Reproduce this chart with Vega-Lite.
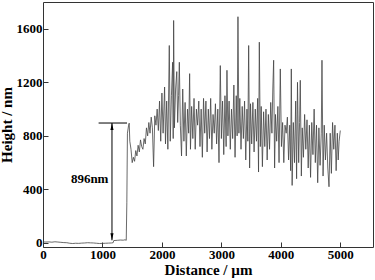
{
  "$schema": "https://vega.github.io/schema/vega-lite/v6.json",
  "width": 330,
  "height": 245,
  "autosize": {"type": "none"},
  "padding": {"left": 43, "top": 2, "right": 2, "bottom": 33},
  "background": "white",
  "config": {
    "view": {"stroke": "#333", "strokeWidth": 1},
    "axis": {
      "grid": false,
      "domain": false,
      "labelFont": "Liberation Serif",
      "labelFontWeight": "bold",
      "labelFontSize": 13,
      "labelColor": "#000",
      "titleFont": "Liberation Serif",
      "titleFontWeight": "bold",
      "titleFontSize": 15,
      "titleColor": "#000",
      "tickColor": "#333",
      "tickWidth": 1
    }
  },
  "datasets": {
    "profile": [
      {"d": 0, "h": 8}, {"d": 50, "h": 7}, {"d": 100, "h": 8}, {"d": 150, "h": 6}, {"d": 200, "h": 9},
      {"d": 250, "h": 7}, {"d": 300, "h": 5}, {"d": 350, "h": 3}, {"d": 400, "h": 2}, {"d": 450, "h": -2},
      {"d": 500, "h": -4}, {"d": 550, "h": -2}, {"d": 600, "h": -3}, {"d": 650, "h": -1}, {"d": 700, "h": 0},
      {"d": 750, "h": 2}, {"d": 800, "h": 1}, {"d": 850, "h": 0}, {"d": 900, "h": -2}, {"d": 950, "h": -4},
      {"d": 1000, "h": -3}, {"d": 1050, "h": -2}, {"d": 1100, "h": -1}, {"d": 1150, "h": 0}, {"d": 1180, "h": 2},
      {"d": 1190, "h": 18}, {"d": 1250, "h": 20}, {"d": 1300, "h": 22}, {"d": 1350, "h": 21}, {"d": 1380, "h": 24},
      {"d": 1400, "h": 20}, {"d": 1410, "h": 300}, {"d": 1420, "h": 820}, {"d": 1440, "h": 880}, {"d": 1450, "h": 895},
      {"d": 1460, "h": 760}, {"d": 1480, "h": 700}, {"d": 1500, "h": 600}, {"d": 1520, "h": 640}, {"d": 1540, "h": 610},
      {"d": 1560, "h": 690}, {"d": 1580, "h": 650}, {"d": 1600, "h": 730}, {"d": 1620, "h": 680}, {"d": 1640, "h": 770},
      {"d": 1660, "h": 720}, {"d": 1680, "h": 700}, {"d": 1700, "h": 780}, {"d": 1720, "h": 740}, {"d": 1740, "h": 860},
      {"d": 1760, "h": 800}, {"d": 1780, "h": 900}, {"d": 1800, "h": 820}, {"d": 1820, "h": 940}, {"d": 1840, "h": 860},
      {"d": 1860, "h": 570}, {"d": 1880, "h": 950}, {"d": 1900, "h": 880}, {"d": 1920, "h": 1000}, {"d": 1940, "h": 840},
      {"d": 1960, "h": 1060}, {"d": 1980, "h": 760}, {"d": 2000, "h": 1120}, {"d": 2020, "h": 820}, {"d": 2045, "h": 1165},
      {"d": 2060, "h": 740}, {"d": 2080, "h": 1060}, {"d": 2100, "h": 700}, {"d": 2124, "h": 1475}, {"d": 2140, "h": 760},
      {"d": 2160, "h": 1100}, {"d": 2180, "h": 1350}, {"d": 2190, "h": 780}, {"d": 2197, "h": 1662}, {"d": 2210, "h": 860},
      {"d": 2230, "h": 1150}, {"d": 2250, "h": 1280}, {"d": 2265, "h": 900}, {"d": 2280, "h": 1100}, {"d": 2293, "h": 1350},
      {"d": 2310, "h": 880}, {"d": 2330, "h": 650}, {"d": 2350, "h": 1150}, {"d": 2370, "h": 760}, {"d": 2390, "h": 1050},
      {"d": 2410, "h": 650}, {"d": 2430, "h": 1000}, {"d": 2450, "h": 820}, {"d": 2466, "h": 1265}, {"d": 2480, "h": 700},
      {"d": 2500, "h": 1020}, {"d": 2520, "h": 780}, {"d": 2540, "h": 1080}, {"d": 2560, "h": 700}, {"d": 2580, "h": 1000},
      {"d": 2600, "h": 880}, {"d": 2620, "h": 1060}, {"d": 2640, "h": 720}, {"d": 2660, "h": 1000}, {"d": 2680, "h": 640},
      {"d": 2700, "h": 1080}, {"d": 2720, "h": 820}, {"d": 2740, "h": 1060}, {"d": 2760, "h": 680}, {"d": 2780, "h": 1000},
      {"d": 2800, "h": 780}, {"d": 2820, "h": 1080}, {"d": 2840, "h": 700}, {"d": 2860, "h": 960}, {"d": 2880, "h": 820},
      {"d": 2900, "h": 1040}, {"d": 2920, "h": 740}, {"d": 2940, "h": 1000}, {"d": 2960, "h": 600}, {"d": 2982, "h": 1325},
      {"d": 3000, "h": 780}, {"d": 3020, "h": 1060}, {"d": 3040, "h": 660}, {"d": 3060, "h": 1100}, {"d": 3080, "h": 720},
      {"d": 3094, "h": 1290}, {"d": 3110, "h": 800}, {"d": 3130, "h": 1060}, {"d": 3150, "h": 700}, {"d": 3170, "h": 1000},
      {"d": 3190, "h": 780}, {"d": 3210, "h": 1180}, {"d": 3230, "h": 640}, {"d": 3250, "h": 1100}, {"d": 3265, "h": 800},
      {"d": 3279, "h": 1690}, {"d": 3295, "h": 820}, {"d": 3310, "h": 1080}, {"d": 3330, "h": 700}, {"d": 3350, "h": 1020},
      {"d": 3370, "h": 780}, {"d": 3390, "h": 1060}, {"d": 3410, "h": 620}, {"d": 3430, "h": 1000}, {"d": 3445, "h": 760},
      {"d": 3459, "h": 1475}, {"d": 3475, "h": 560}, {"d": 3490, "h": 1040}, {"d": 3510, "h": 740}, {"d": 3530, "h": 1050},
      {"d": 3550, "h": 680}, {"d": 3570, "h": 1000}, {"d": 3590, "h": 760}, {"d": 3610, "h": 1080}, {"d": 3625, "h": 530},
      {"d": 3638, "h": 1500}, {"d": 3655, "h": 720}, {"d": 3670, "h": 1020}, {"d": 3690, "h": 570}, {"d": 3710, "h": 980},
      {"d": 3730, "h": 720}, {"d": 3750, "h": 1000}, {"d": 3770, "h": 620}, {"d": 3790, "h": 960}, {"d": 3810, "h": 700},
      {"d": 3830, "h": 1050}, {"d": 3850, "h": 820}, {"d": 3865, "h": 1150}, {"d": 3879, "h": 1365}, {"d": 3895, "h": 560},
      {"d": 3910, "h": 960}, {"d": 3930, "h": 760}, {"d": 3950, "h": 1020}, {"d": 3970, "h": 600}, {"d": 3991, "h": 1300},
      {"d": 4010, "h": 720}, {"d": 4030, "h": 900}, {"d": 4050, "h": 600}, {"d": 4070, "h": 880}, {"d": 4090, "h": 820},
      {"d": 4110, "h": 940}, {"d": 4130, "h": 620}, {"d": 4150, "h": 880}, {"d": 4165, "h": 540}, {"d": 4176, "h": 1300},
      {"d": 4190, "h": 430}, {"d": 4210, "h": 900}, {"d": 4230, "h": 600}, {"d": 4250, "h": 1060}, {"d": 4265, "h": 480},
      {"d": 4280, "h": 1200}, {"d": 4300, "h": 600}, {"d": 4315, "h": 900}, {"d": 4327, "h": 1215}, {"d": 4345, "h": 500},
      {"d": 4360, "h": 860}, {"d": 4380, "h": 640}, {"d": 4400, "h": 960}, {"d": 4420, "h": 700}, {"d": 4440, "h": 920},
      {"d": 4460, "h": 560}, {"d": 4480, "h": 880}, {"d": 4500, "h": 490}, {"d": 4520, "h": 900}, {"d": 4540, "h": 660},
      {"d": 4560, "h": 1000}, {"d": 4580, "h": 600}, {"d": 4600, "h": 880}, {"d": 4620, "h": 450}, {"d": 4640, "h": 860},
      {"d": 4660, "h": 580}, {"d": 4680, "h": 820}, {"d": 4692, "h": 1365}, {"d": 4710, "h": 500}, {"d": 4730, "h": 880},
      {"d": 4750, "h": 620}, {"d": 4770, "h": 820}, {"d": 4790, "h": 560}, {"d": 4810, "h": 420}, {"d": 4830, "h": 820},
      {"d": 4850, "h": 520}, {"d": 4870, "h": 900}, {"d": 4890, "h": 700}, {"d": 4910, "h": 880}, {"d": 4930, "h": 540},
      {"d": 4950, "h": 820}, {"d": 4965, "h": 620}, {"d": 4980, "h": 760}, {"d": 5000, "h": 840}
    ],
    "rules": [
      {"x": 1160, "y": 20, "x2": 1160, "y2": 896},
      {"x": 935, "y": 896, "x2": 1413, "y2": 896}
    ],
    "arrows": [
      {"x": 1160, "y": 870, "dir": "up"},
      {"x": 1160, "y": 46, "dir": "down"}
    ],
    "labels": [
      {"x": 785, "y": 475, "t": "896nm"}
    ]
  },
  "layer": [
    {
      "data": {"name": "profile"},
      "mark": {"type": "line", "stroke": "#444", "strokeWidth": 0.8, "clip": true},
      "encoding": {
        "x": {
          "field": "d", "type": "quantitative",
          "scale": {"domain": [0, 5550], "nice": false, "zero": false},
          "axis": {
            "title": "Distance / µm",
            "values": [0, 500, 1000, 1500, 2000, 2500, 3000, 3500, 4000, 4500, 5000],
            "format": "d",
            "labelExpr": "datum.value % 1000 === 0 ? datum.label : ''",
            "tickSize": {"condition": {"test": "datum.value % 1000 === 0", "value": -5}, "value": -3},
            "labelPadding": 6,
            "titlePadding": 1,
            "labelFlush": false
          }
        },
        "y": {
          "field": "h", "type": "quantitative",
          "scale": {"domain": [-30, 1800], "nice": false, "zero": false},
          "axis": {
            "title": "Height / nm",
            "values": [0, 200, 400, 600, 800, 1000, 1200, 1400, 1600],
            "format": "d",
            "labelExpr": "datum.value % 400 === 0 ? datum.label : ''",
            "tickSize": {"condition": {"test": "datum.value % 400 === 0", "value": -5}, "value": -3},
            "labelPadding": 6,
            "titlePadding": 2,
            "labelFlush": false
          }
        }
      }
    },
    {
      "data": {"name": "rules"},
      "mark": {"type": "rule", "stroke": "#000", "strokeWidth": 1},
      "encoding": {
        "x": {"field": "x", "type": "quantitative"},
        "y": {"field": "y", "type": "quantitative"},
        "x2": {"field": "x2"},
        "y2": {"field": "y2"}
      }
    },
    {
      "data": {"name": "arrows"},
      "mark": {"type": "point", "filled": true, "color": "#000", "size": 49, "opacity": 1},
      "encoding": {
        "x": {"field": "x", "type": "quantitative"},
        "y": {"field": "y", "type": "quantitative"},
        "shape": {
          "field": "dir", "type": "nominal", "legend": null,
          "scale": {"domain": ["up", "down"], "range": ["M0,-1L0.45,1L-0.45,1Z", "M0,1L0.45,-1L-0.45,-1Z"]}
        }
      }
    },
    {
      "data": {"name": "labels"},
      "mark": {"type": "text", "font": "Liberation Serif", "fontWeight": "bold", "fontSize": 13, "color": "#000", "align": "center", "baseline": "middle"},
      "encoding": {
        "x": {"field": "x", "type": "quantitative"},
        "y": {"field": "y", "type": "quantitative"},
        "text": {"field": "t"}
      }
    }
  ]
}
